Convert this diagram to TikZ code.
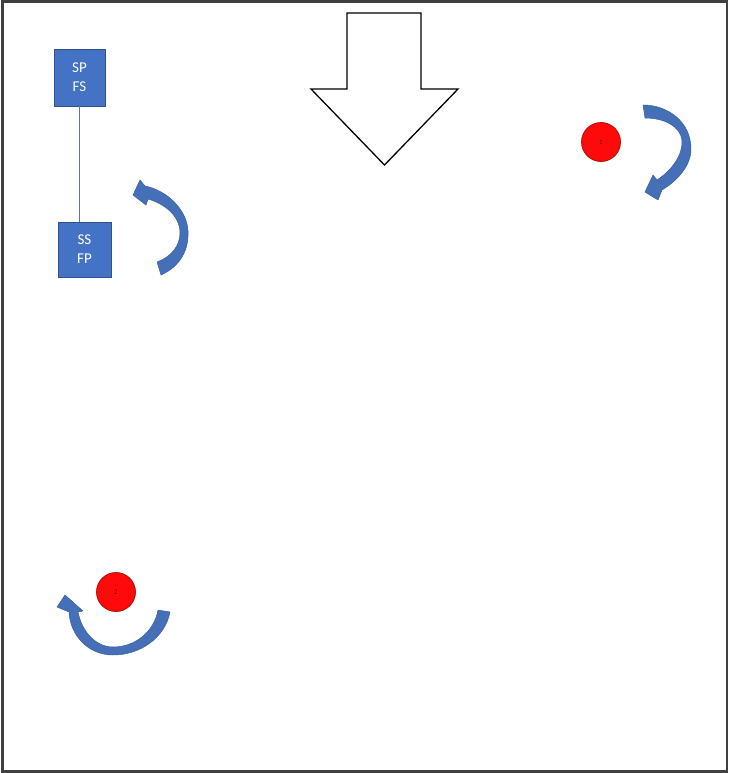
\documentclass[tikz,border=0pt]{standalone}
\usepackage{fontspec}
\setmainfont{Carlito}
\definecolor{boxblue}{HTML}{4472C4}
\definecolor{boxedge}{HTML}{2F528F}
\definecolor{arrblue}{HTML}{4570B8}
\definecolor{redfill}{HTML}{FF0A0A}
\definecolor{rededge}{HTML}{B01010}
\tikzset{
  stepbox/.style={draw=boxedge, line width=0.8pt, fill=boxblue, text=white,
    font=\fontsize{15}{19}\selectfont, align=center, inner sep=0pt},
  dot/.style={circle, draw=rededge, line width=0.8pt, fill=redfill,
    minimum size=39pt, inner sep=0pt, font=\fontsize{7}{7}\selectfont, text=red!40!black},
  curvearrow/.style={fill=arrblue, draw=arrblue!85!black, line width=0.5pt, line join=round},
  frame/.style={draw=black!75, line width=2.8pt},
  bigarrow/.style={draw=black, line width=1.3pt, fill=white, line join=miter}
}
\begin{document}
\begin{tikzpicture}[x=1pt,y=-1pt]
\useasboundingbox (0,0) rectangle (729,773);
\draw[frame] (2.5,1.5) rectangle (727,771.5);

% boxes
\node[stepbox, minimum width=51pt, minimum height=57pt] (sp) at (79.5,77.5) {SP\\FS};
\node[stepbox, minimum width=53pt, minimum height=55pt] (ss) at (84.5,249.5) {SS\\FP};
\draw[draw=boxedge!80, line width=1.2pt] (sp.south) -- (sp.south |- ss.north);

% big down arrow
\draw[bigarrow] (347,13) -- (421,13) -- (421,89) -- (458,89) -- (384.5,165)
  -- (311,89) -- (347,89) -- cycle;

% red circles
\node[dot] (c1) at (601,142) {1};
\node[dot] (c2) at (116,592) {2};

% curved arrow, top right (clockwise, head at bottom)
\fill[curvearrow] (643,105) .. controls (668,105) and (691,122) .. (691,149)
  .. controls (691,166) and (677,181) .. (662,190)
  -- (658,200) -- (645,192) -- (653,175) -- (657,180)
  .. controls (672,170) and (683,155) .. (682,140)
  .. controls (680,126) and (664,118) .. (645,118) -- cycle;

% curved arrow, beside the boxes (counter-clockwise, head at top)
\fill[curvearrow] (161,275) .. controls (181,266) and (189,249) .. (188,231)
  .. controls (187,209) and (166,190) .. (145,186)
  -- (140,180) -- (133,195) -- (146,205) -- (148,199)
  .. controls (165,204) and (180,216) .. (180,233)
  .. controls (180,246) and (171,257) .. (157,262) -- cycle;

% curved arrow, bottom left (clockwise from right, head at left)
\fill[curvearrow] (170,612) .. controls (165,638) and (140,655) .. (113,655)
  .. controls (88,655) and (70,635) .. (69,612)
  -- (57,607) -- (65,595) -- (83,611) -- (78,612)
  .. controls (82,632) and (96,647) .. (113,647)
  .. controls (135,647) and (154,632) .. (158,610) -- cycle;
\end{tikzpicture}
\end{document}
